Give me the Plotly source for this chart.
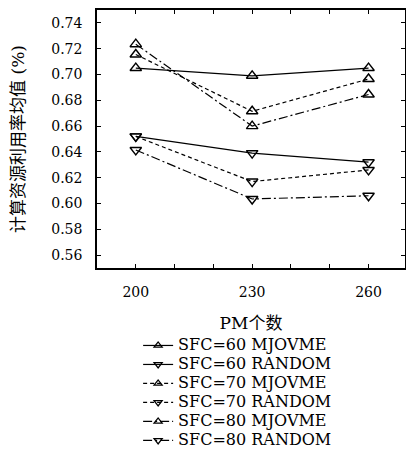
import plotly.graph_objects as go

pm_counts = [200, 230, 260]
sfc60_mjovme = [0.705, 0.699, 0.705]
sfc60_random = [0.652, 0.639, 0.632]
sfc70_mjovme = [0.7155, 0.6715, 0.6965]
sfc70_random = [0.652, 0.617, 0.626]
sfc80_mjovme = [0.7235, 0.660, 0.6845]
sfc80_random = [0.6415, 0.6035, 0.606]

x_tickvals = [200, 210, 220, 230, 240, 250, 260]
x_ticktext = ["200", "", "", "230", "", "", "260"]
y_tickvals = [0.56, 0.58, 0.60, 0.62, 0.64, 0.66, 0.68, 0.70, 0.72, 0.74]

series = [
    ("SFC=60 MJOVME", sfc60_mjovme, "solid", "triangle-up-open"),
    ("SFC=60 RANDOM", sfc60_random, "solid", "triangle-down-open"),
    ("SFC=70 MJOVME", sfc70_mjovme, "4px,3px", "triangle-up-open"),
    ("SFC=70 RANDOM", sfc70_random, "4px,3px", "triangle-down-open"),
    ("SFC=80 MJOVME", sfc80_mjovme, "9px,3px,2px,3px", "triangle-up-open"),
    ("SFC=80 RANDOM", sfc80_random, "9px,3px,2px,3px", "triangle-down-open"),
]

FONT = "DejaVu Serif, Noto Sans CJK SC, serif"

fig = go.Figure()
for name, vals, dash, sym in series:
    # data trace
    fig.add_trace(go.Scatter(
        x=pm_counts, y=vals, mode="lines+markers", name=name, showlegend=False,
        line=dict(color="black", width=1.2, dash=dash),
        marker=dict(symbol=sym, size=10, color="black", line=dict(width=1.4, color="black")),
    ))
    # legend entry (smaller marker, as in the reference key)
    fig.add_trace(go.Scatter(
        x=[None], y=[None], mode="lines+markers",
        name='<span style="font-size:16px">' + name + '</span>',
        line=dict(color="black", width=1.2, dash=dash),
        marker=dict(symbol=sym, size=7, color="black", line=dict(width=1.3, color="black")),
    ))

axis_common = dict(
    showline=True, linecolor="black", linewidth=1.5, mirror="ticks",
    ticks="inside", ticklen=4, tickwidth=1, tickcolor="black",
    showgrid=False, zeroline=False, automargin=False,
)

fig.update_layout(
    width=406, height=450,
    margin=dict(l=97, r=1, t=10, b=182, autoexpand=False),
    plot_bgcolor="white", paper_bgcolor="white",
    font=dict(family=FONT, color="black"),
    xaxis=dict(range=[190, 269.4], tickvals=x_tickvals, ticktext=x_ticktext,
               tickfont=dict(size=14, family=FONT), ticklabelstandoff=10,
               title=dict(text="PM个数", font=dict(size=17, family=FONT), standoff=19),
               **axis_common),
    yaxis=dict(range=[0.55, 0.75], tickvals=y_tickvals, tickformat=".2f",
               tickfont=dict(size=14, family=FONT), ticklabelstandoff=10,
               title=dict(text="计算资源利用率均值 (%)", font=dict(size=17, family=FONT), standoff=22),
               **axis_common),
    legend=dict(x=0.1335, xanchor="left", y=-0.244, yanchor="top",
                font=dict(size=12.2, family=FONT), itemwidth=30, tracegroupgap=0,
                bgcolor="rgba(0,0,0,0)"),
    showlegend=True,
)

fig.write_html(
    "out.html",
    config={"displayModeBar": False},
    post_script="document.body.style.margin='0';document.body.style.overflow='hidden';",
)
